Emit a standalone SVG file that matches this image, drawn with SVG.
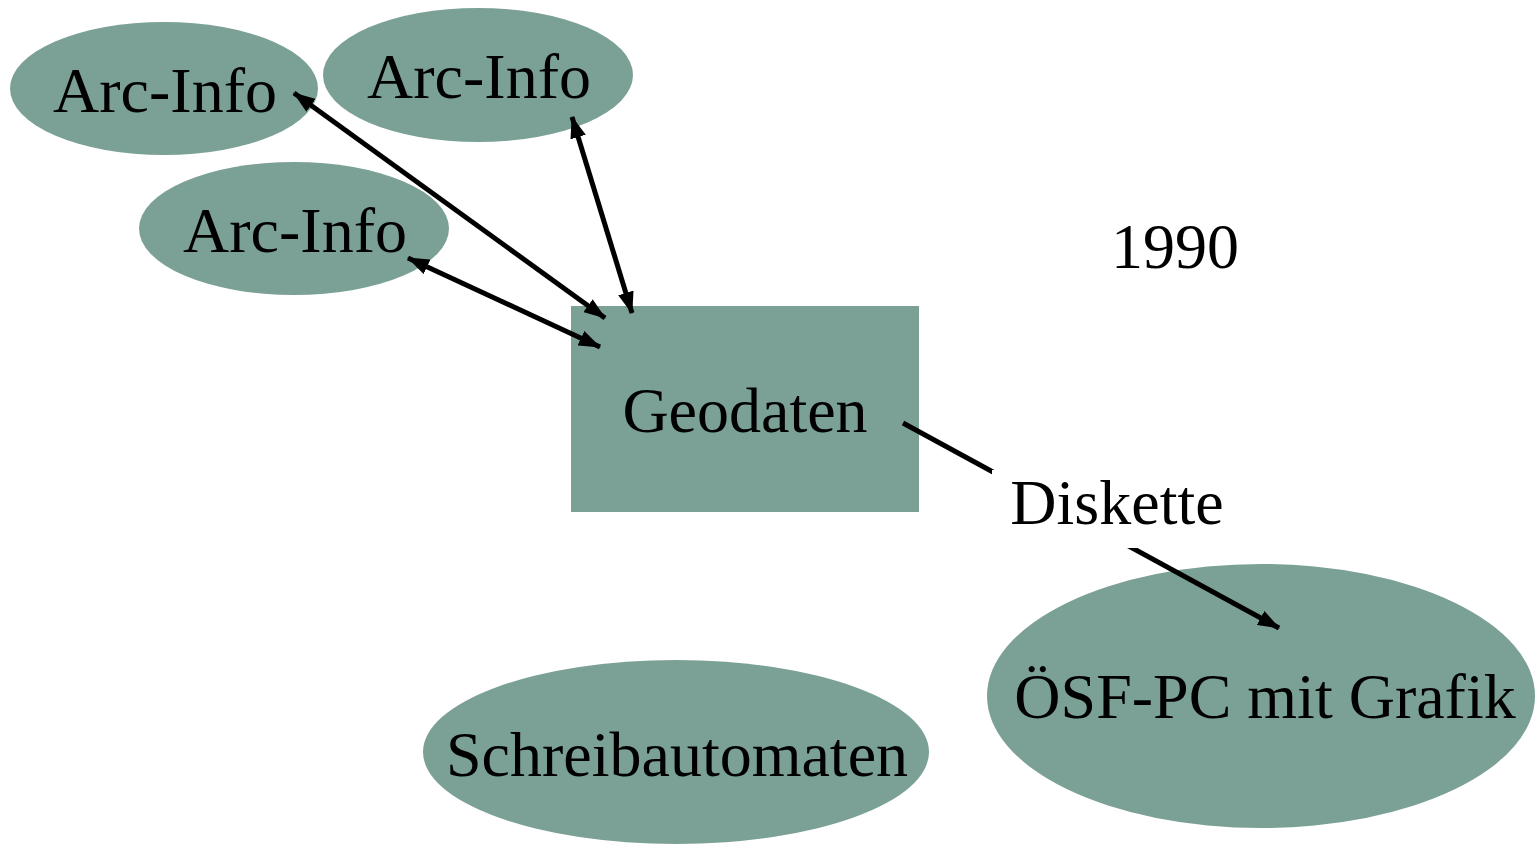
<svg xmlns="http://www.w3.org/2000/svg" width="1536" height="844" viewBox="0 0 1536 844">
<style>
.n{fill:#7BA096;}
.t{font-family:"Liberation Serif","Times New Roman",serif;font-size:64px;fill:#000;}
.c{stroke:#000;stroke-width:5;fill:none;}
</style>
<defs>
<marker id="ah" viewBox="0 0 22 16" refX="21" refY="8" markerWidth="22" markerHeight="16" markerUnits="userSpaceOnUse" orient="auto-start-reverse">
<path d="M0,0 L22,8 L0,16 Z" fill="#000"/>
</marker>
</defs>
<rect width="1536" height="844" fill="#fff"/>
<g id="arcinfo1"><ellipse class="n" cx="164" cy="88.5" rx="154" ry="66.5"/><text class="t" x="165" y="112" text-anchor="middle">Arc-Info</text></g>
<g id="arcinfo2"><ellipse class="n" cx="478" cy="75" rx="155" ry="67"/><text class="t" x="479" y="98" text-anchor="middle">Arc-Info</text></g>
<g id="arcinfo3"><ellipse class="n" cx="294" cy="228.5" rx="155" ry="66.5"/><text class="t" x="295" y="252" text-anchor="middle">Arc-Info</text></g>
<g id="geodaten"><rect class="n" x="571" y="306" width="348" height="206"/><text class="t" x="745" y="432" text-anchor="middle">Geodaten</text></g>
<g id="schreibautomaten"><ellipse class="n" cx="676" cy="752" rx="253" ry="92"/><text class="t" x="677" y="776" text-anchor="middle">Schreibautomaten</text></g>
<g id="oesf"><ellipse class="n" cx="1261" cy="696" rx="274" ry="132"/><text class="t" x="1265" y="718" text-anchor="middle">ÖSF-PC mit Grafik</text></g>
<g id="year"><text class="t" x="1175" y="268" text-anchor="middle">1990</text></g>
<g id="connectors">
<line class="c" x1="294" y1="93" x2="605" y2="318" marker-start="url(#ah)" marker-end="url(#ah)"/>
<line class="c" x1="572" y1="117" x2="632" y2="313" marker-start="url(#ah)" marker-end="url(#ah)"/>
<line class="c" x1="408" y1="258" x2="600" y2="347" marker-start="url(#ah)" marker-end="url(#ah)"/>
<line class="c" x1="903" y1="423" x2="1279" y2="628" marker-end="url(#ah)"/>
<rect x="992" y="470" width="240" height="78" fill="#fff"/>
<text class="t" x="1117" y="524" text-anchor="middle">Diskette</text>
</g>
</svg>
